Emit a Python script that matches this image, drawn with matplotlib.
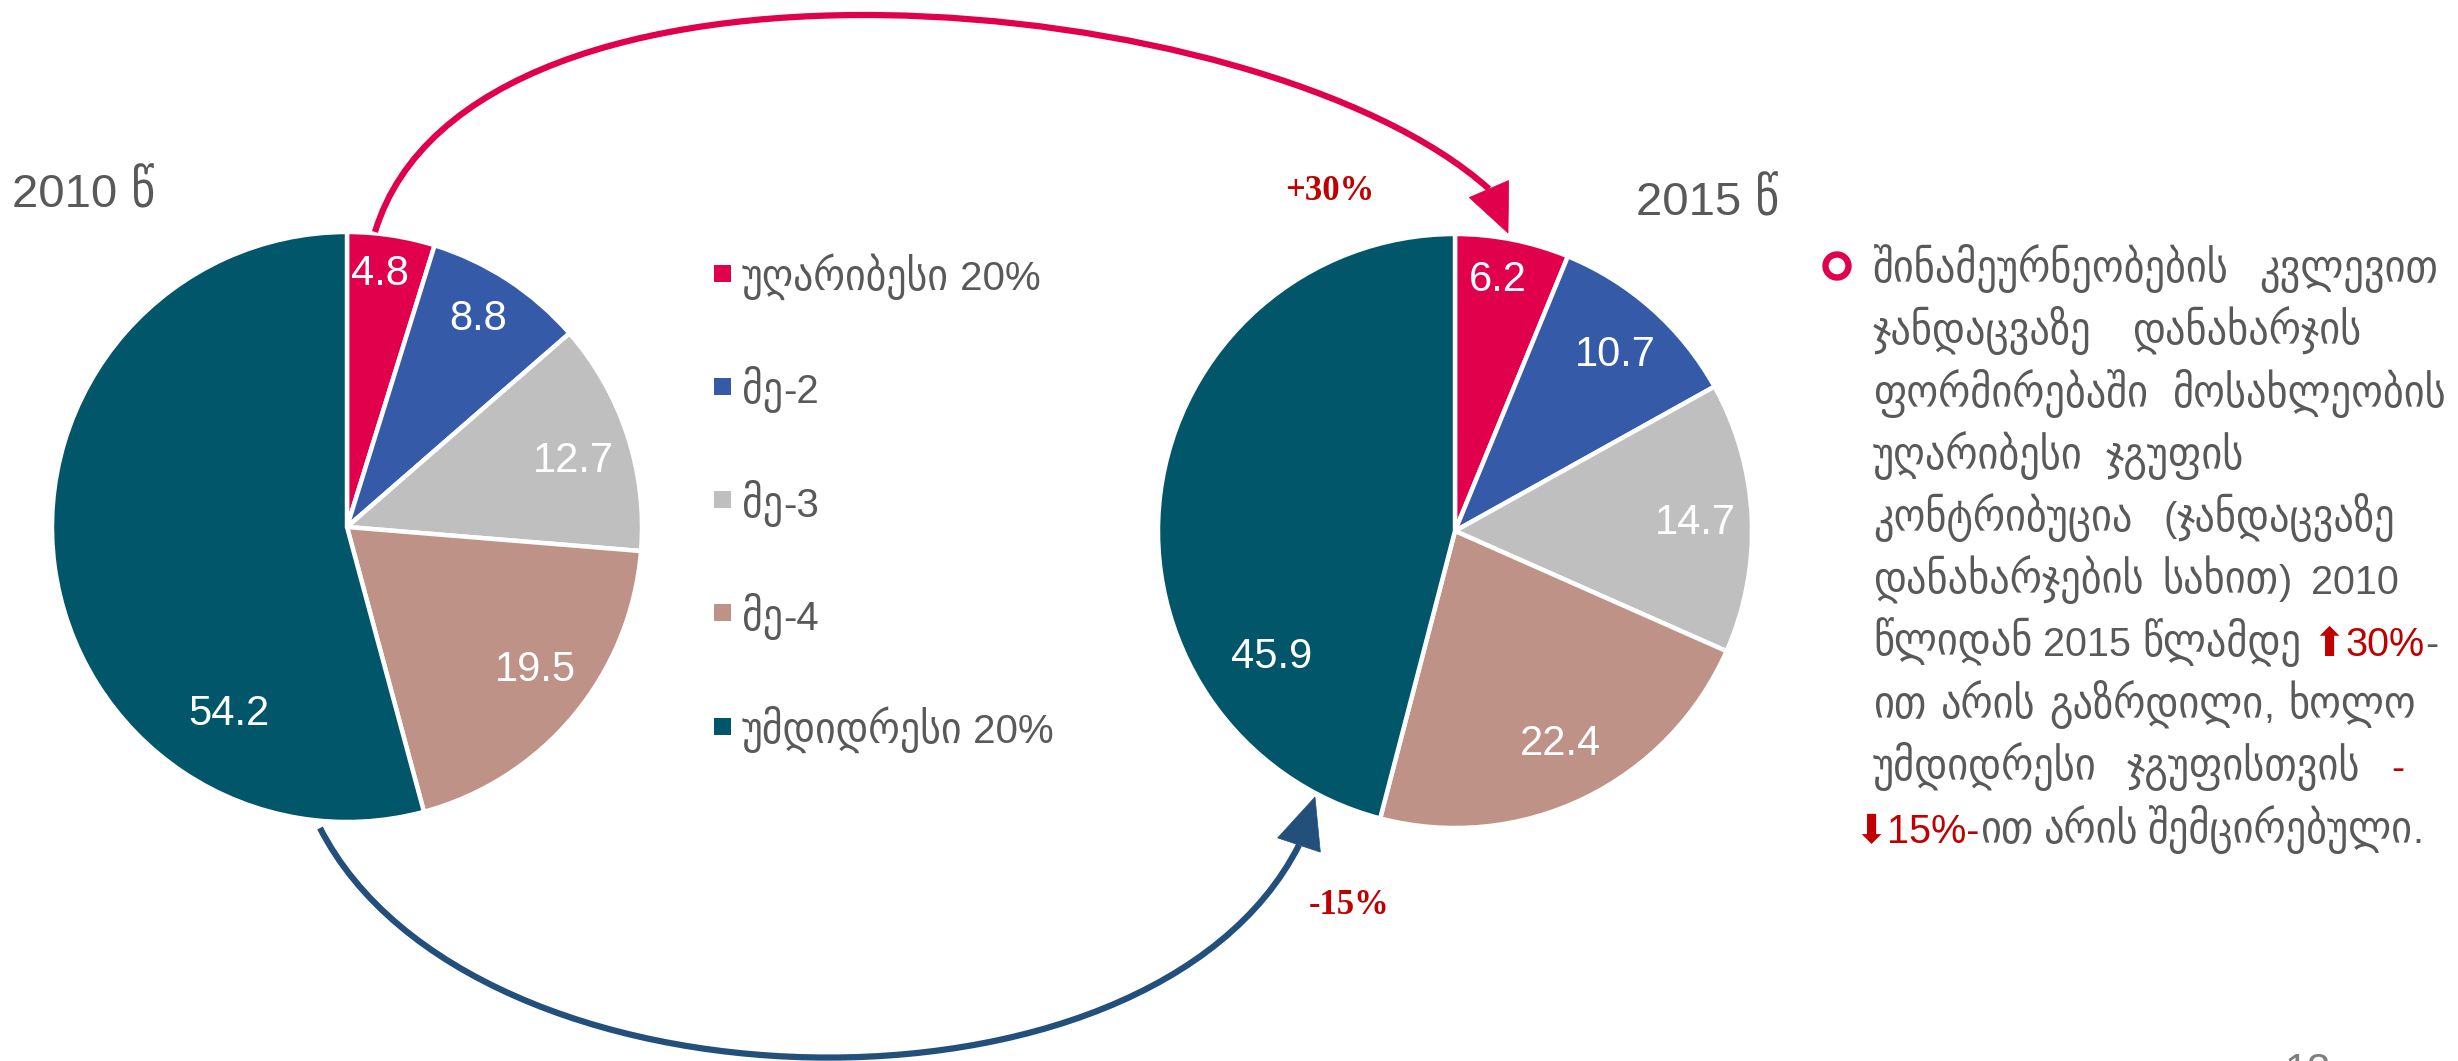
import numpy as np
import matplotlib
matplotlib.use('Agg')
import matplotlib.pyplot as plt
from matplotlib import font_manager as fm
from matplotlib.patches import Rectangle, Circle, Polygon, PathPatch
from matplotlib.path import Path

W, H = 2458, 1061

# ---------------- data ----------------
categories = ["უღარიბესი 20%", "მე-2", "მე-3", "მე-4", "უმდიდრესი 20%"]
values_2010 = [4.8, 8.8, 12.7, 19.5, 54.2]
values_2015 = [6.2, 10.7, 14.7, 22.4, 45.9]
year_titles = ["2010 წ", "2015 წ"]
change_labels = ["+30%", "-15%"]
page_number = "13"

# ---------------- style ----------------
colors = ['#E1004B', '#345AA8', '#BFBFBF', '#BF9287', '#02566A']
GRAY = '#595959'
DARKRED = '#C00000'
ARC_RED = '#E1004B'
ARC_BLUE = '#22507A'
LAT = ['Liberation Sans', 'DejaVu Sans']

try:
    _p = fm.findfont(fm.FontProperties(family='DejaVu Sans', stretch='condensed'),
                     fallback_to_default=False)
    HAS_COND = 'Condensed' in _p
except Exception:
    HAS_COND = False
GEO_KW = dict(family=['DejaVu Sans'], fontstretch='condensed') if HAS_COND else dict(family=['DejaVu Sans'])
COND = 1.1 if HAS_COND else 1.0

fig = plt.figure(figsize=(W / 100, H / 100), dpi=100)
ax = fig.add_axes([0, 0, 1, 1])
ax.set_xlim(0, W)
ax.set_ylim(0, H)


def Y(y):
    return H - y


def is_geo(ch):
    return '\u10A0' <= ch <= '\u10FF'


def split_runs(s):
    runs = []
    for ch in s:
        g = is_geo(ch)
        if runs and runs[-1][1] == g:
            runs[-1][0] += ch
        else:
            runs.append([ch, g])
    return runs


renderer = fig.canvas.get_renderer()


def make_runs(segments, y, fs, gscale):
    out = []
    for s, c in segments:
        for txt, g in split_runs(s):
            if g:
                t = ax.text(0, y, txt, color=c, fontsize=fs * gscale * COND,
                            ha='left', va='baseline', **GEO_KW)
            else:
                t = ax.text(0, y, txt, color=c, fontsize=fs, family=LAT,
                            ha='left', va='baseline')
            w = t.get_window_extent(renderer).width
            out.append((t, w))
    return out


def place(runs, x):
    for t, w in runs:
        t.set_x(x)
        x += w
    return x


# ---------------- pies ----------------
pies = [
    dict(values=values_2010, center=(347, 527), radius=295,
         label_pos=[(82.6, 0.865), (57.8, 0.834), (16.2, 0.80), (-37.2, 0.80), (237.8, 0.75)]),
    dict(values=values_2015, center=(1455, 531), radius=297,
         label_pos=[(80.3, 0.857), (47.7, 0.80), (2.0, 0.81), (-63.7, 0.80), (214.5, 0.75)]),
]
for p in pies:
    cx, cy = p['center']
    ax.pie(p['values'], colors=colors, startangle=90, counterclock=False,
           center=(cx, Y(cy)), radius=p['radius'], normalize=True,
           wedgeprops=dict(edgecolor='white', linewidth=3.2))
    for v, (ang, rf) in zip(p['values'], p['label_pos']):
        a = np.deg2rad(ang)
        ax.text(cx + rf * p['radius'] * np.cos(a), Y(cy) + rf * p['radius'] * np.sin(a),
                f"{v:.1f}", color='white', fontsize=30, family=LAT,
                ha='center', va='center')

ax.set_xlim(0, W)
ax.set_ylim(0, H)
ax.set_aspect('equal')
ax.axis('off')

# titles
place(make_runs([(year_titles[0], GRAY)], Y(207), 34, 1.0), 12)
place(make_runs([(year_titles[1], GRAY)], Y(215), 34, 1.0), 1636)

# ---------------- legend ----------------
for i, (lab, col) in enumerate(zip(categories, colors)):
    yc = 273 + i * 113.3
    ax.add_patch(Rectangle((714, Y(yc) - 8.5), 17, 17, facecolor=col, edgecolor='none'))
    place(make_runs([(lab, GRAY)], Y(yc + 17), 29, 1.0), 742)


# ---------------- curved arrows ----------------
def curved_arrow(p0, p1, p2, p3, tip, width, color, lw):
    verts = [(x, Y(y)) for x, y in (p0, p1, p2, p3)]
    path = Path(verts, [Path.MOVETO, Path.CURVE4, Path.CURVE4, Path.CURVE4])
    ax.add_patch(PathPatch(path, facecolor='none', edgecolor=color, lw=lw,
                           capstyle='butt'))
    bx, by = p3[0], Y(p3[1])
    tx, ty = tip[0], Y(tip[1])
    d = np.array([tx - bx, ty - by])
    d = d / np.linalg.norm(d)
    n = np.array([-d[1], d[0]])
    pts = [(tx, ty), (bx + n[0] * width / 2, by + n[1] * width / 2),
           (bx - n[0] * width / 2, by - n[1] * width / 2)]
    ax.add_patch(Polygon(pts, closed=True, facecolor=color, edgecolor=color, lw=0.5))


curved_arrow((375, 232), (471, -85), (1262, -15), (1489, 189), (1508, 233), 43, ARC_RED, 4.5)
curved_arrow((320, 828), (470, 1122), (1150, 1140), (1299, 845), (1315, 797), 45, ARC_BLUE, 4.5)

ax.text(1330, Y(192), change_labels[0], color=DARKRED, fontsize=25,
        family='Liberation Serif', weight='bold', ha='center', va='center')
ax.text(1349, Y(905), change_labels[1], color=DARKRED, fontsize=25,
        family='Liberation Serif', weight='bold', ha='center', va='center')

# ---------------- right text block ----------------
ax.add_patch(Circle((1837, Y(266)), 11.5, facecolor='none', edgecolor=ARC_RED, lw=4.6))

G, R = GRAY, DARKRED
body_lines = [
    [[("შინამეურნეობების", G)], [("კვლევით", G)]],
    [[("ჯანდაცვაზე", G)], [("დანახარჯის", G)]],
    [[("ფორმირებაში", G)], [("მოსახლეობის", G)]],
    [[("უღარიბესი", G)], [("ჯგუფის", G)]],
    [[("კონტრიბუცია", G)], [("(ჯანდაცვაზე", G)]],
    [[("დანახარჯების", G)], [("სახით)", G)], [("2010", G)]],
    [[("წლიდან", G)], [("2015", G)], [("წლამდე", G)], [("⬆", R), ("30%", R), ("-", G)]],
    [[("ით", G)], [("არის", G)], [("გაზრდილი,", G)], [("ხოლო", G)]],
    [[("უმდიდრესი", G)], [("ჯგუფისთვის", G)], [("-", R)]],
    [[("⬇", R), ("15%-", R), ("ით", G)], [("არის", G)], [("შემცირებული.", G)]],
]
line_left = [1873] * 9 + [1854]
line_right = [2438, 2361, 2446, 2244, 2395, 2399, 2438, 2416, 2404, 2421]
FS = 28.5
BODY_GSCALE = 1.03

for i, line in enumerate(body_lines):
    base = Y(282 + 62.3 * i)
    toks = [make_runs(tok, base, FS, BODY_GSCALE) for tok in line]
    widths = [sum(w for _, w in r) for r in toks]
    ngaps = len(toks) - 1
    gap = (line_right[i] - line_left[i] - sum(widths)) / ngaps
    gap = max(gap, 10)
    x = line_left[i]
    for r in toks:
        x = place(r, x) + gap

ax.text(2308, Y(1052), page_number, color='#7F7F7F', fontsize=30, family=LAT,
        ha='center', va='top')

fig.savefig('out.png', dpi=100, facecolor='white')
